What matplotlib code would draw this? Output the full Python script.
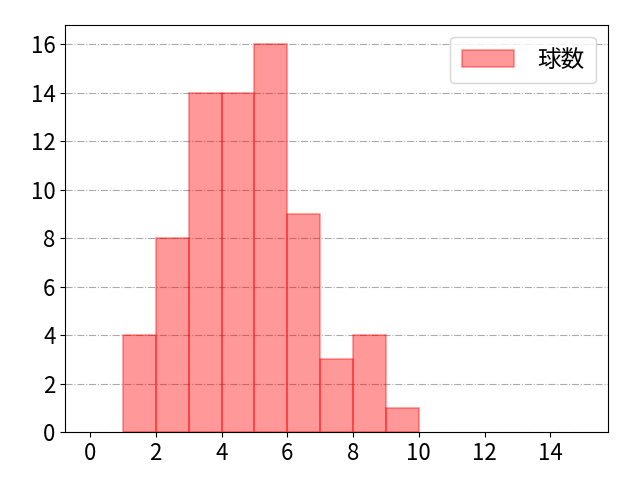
import matplotlib
matplotlib.use("Agg")
import matplotlib.pyplot as plt

plt.rcParams['font.family'] = ['Noto Sans CJK JP', 'DejaVu Sans']

# pitch count histogram
bin_edges = list(range(0, 16))
bin_left = list(range(0, 15))
counts = [0, 4, 8, 14, 14, 16, 9, 3, 4, 1, 0, 0, 0, 0, 0]
label = "球数"

fig, ax = plt.subplots(figsize=(6.4, 4.8), dpi=100)
n, b, patches = ax.hist(bin_left, bins=bin_edges, weights=counts, color='red',
                        alpha=0.4, edgecolor='red', linewidth=1.2, label=label)
for p in patches:
    if p.get_height() == 0:
        p.set_visible(False)
ax.grid(axis='y', linestyle='-.', color='#aaaaaa', linewidth=0.8)
ax.set_axisbelow(True)
ax.set_xlim(-0.75, 15.75)
ax.set_ylim(0, 16.8)
ax.set_xticks([0, 2, 4, 6, 8, 10, 12, 14])
ax.set_yticks(range(0, 17, 2))
ax.tick_params(labelsize=16)
ax.legend(handles=[patches[1]], labels=[label], fontsize=17, handlelength=2.2,
          handletextpad=1.0, loc='upper right', borderpad=0.5)
fig.subplots_adjust(left=0.102, right=0.95, top=0.948, bottom=0.1)
fig.savefig("out.png", dpi=100)
